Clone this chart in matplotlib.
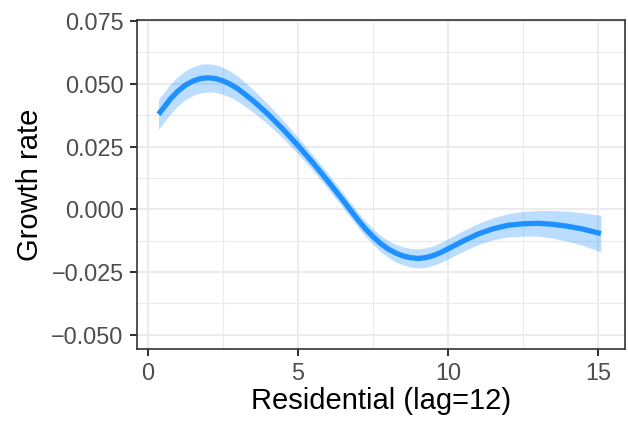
import numpy as np
import matplotlib
matplotlib.use('Agg')
from matplotlib import pyplot as plt
from matplotlib.ticker import MultipleLocator

# smooth fit
residential = [0.35, 0.5, 0.75, 1.0, 1.25, 1.5, 1.75, 2.0, 2.25, 2.5, 2.75, 3.0, 3.5, 4.0, 4.5,
               5.0, 5.5, 6.0, 6.5, 6.75, 7.0, 7.25, 7.5, 7.75, 8.0, 8.25, 8.5, 8.75, 9.0, 9.25,
               9.5, 9.75, 10.0, 10.5, 11.0, 11.5, 12.0, 12.5, 13.0, 13.5, 14.0, 14.5, 15.1]
growth = [0.0379, 0.0401, 0.0440, 0.0471, 0.0495, 0.0511, 0.0521, 0.0524, 0.0521, 0.0512,
          0.0498, 0.0480, 0.0433, 0.0379, 0.0319, 0.0254, 0.0185, 0.0112, 0.0036, -0.0003,
          -0.0042, -0.0078, -0.0109, -0.0136, -0.0158, -0.0174, -0.0186, -0.0193, -0.0196, -0.0193,
          -0.0185, -0.0173, -0.0158, -0.0127, -0.0099, -0.0078, -0.0064, -0.0058, -0.0056, -0.0060,
          -0.0068, -0.0079, -0.0097]
half_band = [0.0060, 0.0060, 0.0059, 0.0058, 0.0058, 0.0057, 0.0057, 0.0056, 0.0055, 0.0054,
             0.0052, 0.0050, 0.0045, 0.0040, 0.0036, 0.0033, 0.0031, 0.0030, 0.0030, 0.0030,
             0.0030, 0.0030, 0.0031, 0.0032, 0.0033, 0.0035, 0.0036, 0.0037, 0.0038, 0.0039,
             0.0039, 0.0040, 0.0040, 0.0041, 0.0042, 0.0044, 0.0046, 0.0049, 0.0051, 0.0055,
             0.0060, 0.0065, 0.0073]

x = np.array(residential)
y = np.array(growth)
se = np.array(half_band)

plt.rcParams['font.family'] = ['Liberation Sans', 'DejaVu Sans']

fig = plt.figure(figsize=(6.28, 4.22), dpi=100)
ax = fig.add_axes([0.218, 0.173, 0.777, 0.780])

ax.fill_between(x, y - se, y + se, color='#1E90FF', alpha=0.3, linewidth=0, zorder=2)
ax.plot(x, y, color='#1E90FF', linewidth=3.8, solid_capstyle='butt',
        solid_joinstyle='round', zorder=3)

ax.set_xlim(-0.37, 15.9)
ax.set_ylim(-0.0557, 0.0755)
ax.xaxis.set_major_locator(MultipleLocator(5))
ax.xaxis.set_minor_locator(MultipleLocator(2.5))
ax.yaxis.set_minor_locator(MultipleLocator(0.0125))
ax.set_yticks(np.arange(-0.05, 0.0751, 0.025))
ax.set_yticklabels(['\u22120.050', '\u22120.025', '0.000', '0.025', '0.050', '0.075'])

ax.grid(which='major', color='#EBEBEB', linewidth=1.5, zorder=0)
ax.grid(which='minor', color='#EBEBEB', linewidth=0.8, zorder=0)
ax.set_axisbelow(True)

for s in ax.spines.values():
    s.set_color('#333333')
    s.set_linewidth(1.2)
ax.tick_params(which='major', length=5, width=1.45, color='#333333',
               labelsize=16.8, labelcolor='#4D4D4D', pad=4.5)
ax.tick_params(which='minor', length=0)

ax.set_xlabel('Residential (lag=12)', fontsize=21, color='black', labelpad=1)
ax.set_ylabel('Growth rate', fontsize=21, color='black', labelpad=5)

plt.savefig('out.png', dpi=100)
plt.close(fig)
